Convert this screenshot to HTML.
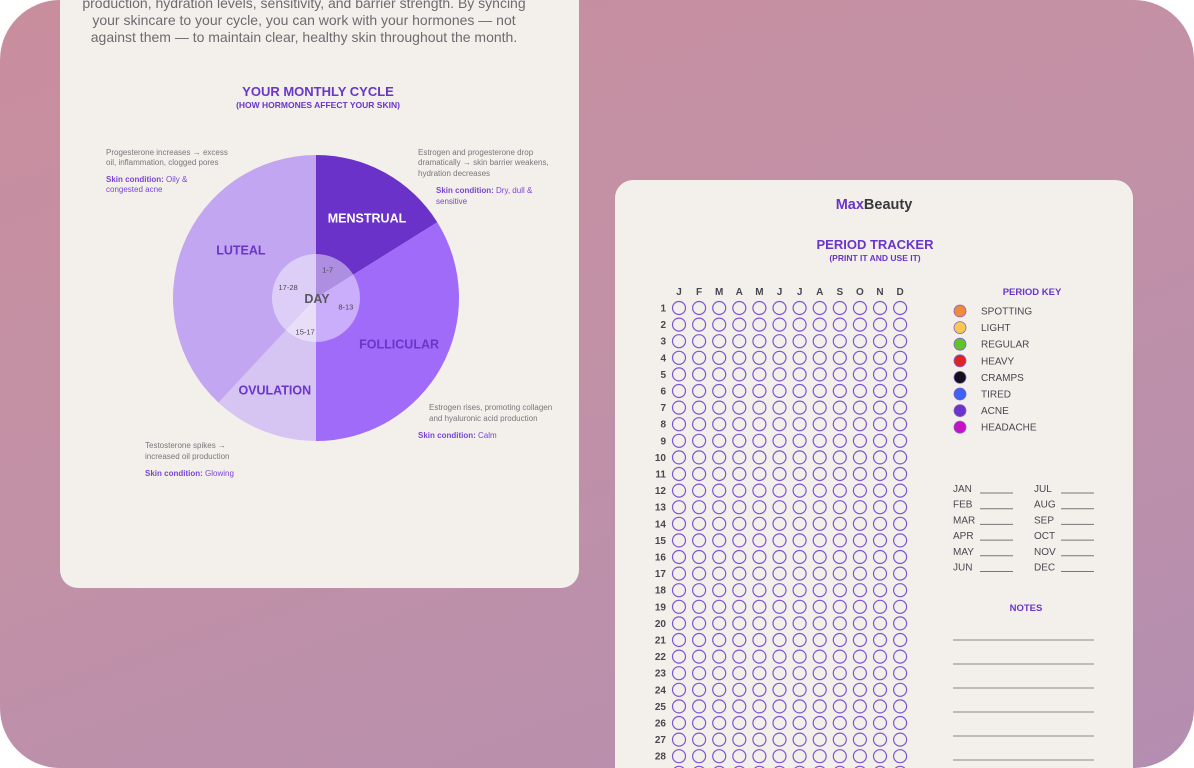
<!DOCTYPE html>
<html><head><meta charset="utf-8">
<style>
html,body{margin:0;padding:0;background:#fff;width:1194px;height:768px;overflow:hidden;font-family:"Liberation Sans",sans-serif}
#frame{position:absolute;left:0;top:0;width:1194px;height:768px;border-radius:60px;overflow:hidden;background:linear-gradient(160deg,#c98e9e 0%,#c291a6 45%,#b48eb0 100%)}
.card{position:absolute;background:#f3f0eb;border-radius:18px}
</style></head><body>
<div id="frame">
<div class="card" style="left:60px;top:-40px;width:519px;height:628px"></div>
<div class="card" style="left:615px;top:180px;width:518px;height:588px;border-bottom-left-radius:0;border-bottom-right-radius:0"></div>
<svg id="svg" width="1194" height="768" style="position:absolute;left:0;top:0" font-family="Liberation Sans, sans-serif">
<g fill="#6e6a70" font-size="14" text-anchor="middle">
<text x="304" y="8">production, hydration levels, sensitivity, and barrier strength. By syncing</text>
<text x="304" y="25">your skincare to your cycle, you can work with your hormones — not</text>
<text x="304" y="42">against them — to maintain clear, healthy skin throughout the month.</text>
</g>
<text x="318" y="96" text-anchor="middle" font-size="13" font-weight="bold" fill="#6a35c9">YOUR MONTHLY CYCLE</text>
<text x="318" y="108" text-anchor="middle" font-size="8.5" font-weight="bold" fill="#6a35c9">(HOW HORMONES AFFECT YOUR SKIN)</text>
<g id="pie"></g>
<g font-size="8" fill="#7a767c">
<text x="106" y="155">Progesterone increases → excess</text>
<text x="106" y="165">oil, inflammation, clogged pores</text>
<text x="106" y="182" fill="#7a45d6"><tspan font-weight="bold">Skin condition:</tspan> Oily &amp;</text>
<text x="106" y="192" fill="#7a45d6">congested acne</text>
<text x="418" y="155">Estrogen and progesterone drop</text>
<text x="418" y="165">dramatically → skin barrier weakens,</text>
<text x="418" y="176">hydration decreases</text>
<text x="436" y="193" fill="#7a45d6"><tspan font-weight="bold">Skin condition:</tspan> Dry, dull &amp;</text>
<text x="436" y="204" fill="#7a45d6">sensitive</text>
<text x="429" y="410">Estrogen rises, promoting collagen</text>
<text x="429" y="421">and hyaluronic acid production</text>
<text x="418" y="438" fill="#7a45d6"><tspan font-weight="bold">Skin condition:</tspan> Calm</text>
<text x="145" y="448">Testosterone spikes →</text>
<text x="145" y="459">increased oil production</text>
<text x="145" y="476" fill="#7a45d6"><tspan font-weight="bold">Skin condition:</tspan> Glowing</text>
</g>
<text x="874" y="209" text-anchor="middle" font-size="14.5" font-weight="bold"><tspan fill="#6a35c9">Max</tspan><tspan fill="#3a3a3e">Beauty</tspan></text>
<text x="875" y="249" text-anchor="middle" font-size="13" font-weight="bold" fill="#6a35c9">PERIOD TRACKER</text>
<text x="875" y="261" text-anchor="middle" font-size="8.5" font-weight="bold" fill="#6a35c9">(PRINT IT AND USE IT)</text>
<g id="grid"></g>
<text x="1032" y="295" text-anchor="middle" font-size="9.5" font-weight="bold" fill="#6a35c9">PERIOD KEY</text>
<g id="key"></g>
<g id="months"></g>
<text x="1026" y="611" text-anchor="middle" font-size="9.5" font-weight="bold" fill="#6a35c9">NOTES</text>
<g id="notes"></g>
</svg>
</div>
<script>
const phases=["MENSTRUAL","FOLLICULAR","OVULATION","LUTEAL"];
const phaseDegrees=[58,122,43,137];
const phaseDays=["1-7","8-13","15-17","17-28"];
const phaseColors=["#6a32c9","#9f6bf8","#d6c4f3","#c2a6f1"];
const monthLetters=["J","F","M","A","M","J","J","A","S","O","N","D"];
const dayCount=29;
const keyLabels=["SPOTTING","LIGHT","REGULAR","HEAVY","CRAMPS","TIRED","ACNE","HEADACHE"];
const keyColors=["#ee8a3c","#f7c94f","#5fc42a","#db2424","#111118","#3d63f5","#6a35c9","#c412c4"];
const monthsLeft=["JAN","FEB","MAR","APR","MAY","JUN"];
const monthsRight=["JUL","AUG","SEP","OCT","NOV","DEC"];
// layout placement (angle offset within slice as fraction, radius px) — styling, not data
const nameFrac=[0.56,0.5,0.56,0.58],nameRad=[95,95,101,89];
const dayFrac=[0.38,0.39,0.42,0.5],dayRad=[31,31,35,30];
const NS="http://www.w3.org/2000/svg";
function mk(tag,attrs,parent,txt){const e=document.createElementNS(NS,tag);for(const k in attrs)e.setAttribute(k,attrs[k]);if(txt!=null)e.textContent=txt;parent.appendChild(e);return e;}
const cx=316,cy=298,R=143,r0=44;
const pie=document.getElementById('pie');
function pt(a,r){const t=(a-90)*Math.PI/180;return [cx+r*Math.cos(t),cy+r*Math.sin(t)];}
let total=phaseDegrees.reduce((a,b)=>a+b,0),acc=0;
const spans=[];
phaseDegrees.forEach((d,i)=>{
 const a0=acc/total*360,a1=(acc+d)/total*360;acc+=d;spans.push([a0,a1]);
 const p0=pt(a0,R),p1=pt(a1,R);
 const s=mk('path',{d:`M${cx},${cy}L${p0[0]},${p0[1]}A${R},${R} 0 ${a1-a0>180?1:0} 1 ${p1[0]},${p1[1]}Z`,fill:phaseColors[i]},pie);
 
 
});
spans.forEach((sp,i)=>{
 const m=sp[0]+(sp[1]-sp[0])*nameFrac[i];
 const lp=pt(m,nameRad[i]);
 const t=mk('text',{x:lp[0],y:lp[1]+4.5,'text-anchor':'middle','font-size':12.5,'font-weight':'bold',fill:i==0?'#fff':'#6a35c9'},pie,phases[i]);
 
 
});
const inner=mk('circle',{cx:cx,cy:cy,r:r0,fill:'#ffffff','fill-opacity':0.45},pie);


const dl=mk('text',{x:cx+1,y:cy+5,'text-anchor':'middle','font-size':12.5,'font-weight':'bold',fill:'#5a5560'},pie,'DAY');


spans.forEach((sp,i)=>{
 const m=sp[0]+(sp[1]-sp[0])*dayFrac[i];
 const p=pt(m,dayRad[i]);
 const t=mk('text',{x:p[0],y:p[1]+3,'text-anchor':'middle','font-size':7.5,fill:'#4a4650'},pie,phaseDays[i]);
 
 
});
const grid=document.getElementById('grid');
const gx0=679,gdx=20.1,gy0=308,gdy=16.6;
monthLetters.forEach((m,j)=>{
 const t=mk('text',{x:gx0+j*gdx,y:295,'text-anchor':'middle','font-size':10,'font-weight':'bold',fill:'#4a4650'},grid,m);
 
 
});
for(let d=1;d<=dayCount;d++){
 const y=gy0+(d-1)*gdy;
 const t=mk('text',{x:666,y:y+3.5,'text-anchor':'end','font-size':10,'font-weight':'bold',fill:'#4a4650'},grid,d);
 
 
 monthLetters.forEach((m,j)=>{
  const c=mk('circle',{cx:gx0+j*gdx,cy:y,r:6.5,fill:'none',stroke:'#7d55d2','stroke-width':1.2},grid);
  
  
 });
}
const key=document.getElementById('key');
keyLabels.forEach((l,i)=>{
 const y=311+i*16.6;
 const c=mk('circle',{cx:960,cy:y,r:6,fill:keyColors[i],stroke:'#8a5cc8','stroke-width':0.8},key);
 
 
 const t=mk('text',{x:981,y:y+3.5,'font-size':10,fill:'#4a4650'},key,l);
 
 
});
const months=document.getElementById('months');
[monthsLeft,monthsRight].forEach((arr,k)=>{
 const x=k?1034:953;
 arr.forEach((m,i)=>{
  const y=492+i*15.7;
  const t=mk('text',{x:x,y:y,'font-size':10,fill:'#4a4650'},months,m);
  
  
  const ln=mk('line',{x1:x+27,x2:x+60,y1:y+1,y2:y+1,stroke:'#777','stroke-width':1},months);
  
  
 });
});
const notes=document.getElementById('notes');
for(let i=0;i<6;i++){
 const y=640+i*24;
 const ln=mk('line',{x1:953,x2:1094,y1:y,y2:y,stroke:'#888','stroke-width':1},notes);
 
 
}
</script>
</body></html>
